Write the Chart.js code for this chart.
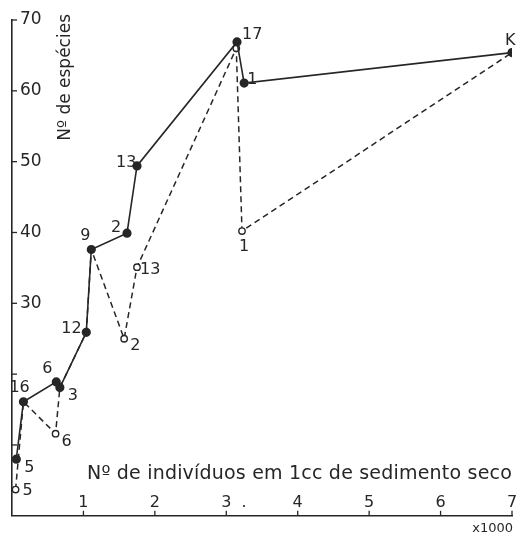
<!DOCTYPE html>
<html>
<head>
<meta charset="utf-8">
<script src="https://cdn.jsdelivr.net/npm/chart.js@4.4.1/dist/chart.umd.min.js"></script>
<style>
  html, body { margin: 0; padding: 0; background: #fff; }
  #wrap { width: 519px; height: 534px; }
</style>
</head>
<body>
<div id="wrap"><canvas id="especiesChart"></canvas></div>
<script>
// individuos (x1000) e nº de especies
const solidX = [0.06, 0.16, 0.62, 0.67, 1.04, 1.11, 1.61, 1.75, 3.15, 3.25, 7.0];
const solidY = [8.0, 16.1, 18.9, 18.1, 25.9, 37.6, 39.9, 49.4, 66.9, 61.1, 65.4];
const solidLabels = ['5', '16', '6', '3', '12', '9', '2', '13', '17', '1', 'K'];

const dashedX = [0.05, 0.16, 0.61, 0.67, 1.04, 1.11, 1.57, 1.75, 3.14, 3.22, 7.0];
const dashedY = [3.7, 16.1, 11.6, 18.1, 25.9, 37.6, 25.0, 35.1, 66.0, 40.2, 65.4];
const dashedLabels = ['5', '', '6', '', '', '', '2', '13', '', '1', ''];

const xTicks = [1, 2, 3, 4, 5, 6, 7];
const yTicks = [10, 20, 30, 40, 50, 60, 70];
const yTickLabels = ['', '', '30', '40', '50', '60', '70'];

const ink = '#262626';

// label offsets (px) relative to the point
const solidOffsets = [[8, 9], [-14, -14], [-14, -13], [8, 8], [-25, -4], [-11, -14], [-16, -5], [-21, -3], [5, -7], [3, -3], [-7, -12]];
const dashedOffsets = [[7, 1], [0, 0], [6, 8], [0, 0], [0, 0], [0, 0], [6, 7], [3, 3], [0, 0], [-3, 16], [0, 0]];

const toPoints = (xs, ys) => xs.map((x, i) => ({ x: x, y: ys[i] }));

const decor = {
    id: 'decor',
    afterDraw(chart) {
        const ctx = chart.ctx;
        const xs = chart.scales.x;
        const ys = chart.scales.y;
        const area = chart.chartArea;
        ctx.save();
        ctx.strokeStyle = ink;
        ctx.fillStyle = ink;
        ctx.lineWidth = 1.3;

        // inward tick marks
        yTicks.forEach(v => {
            const py = ys.getPixelForValue(v);
            ctx.beginPath();
            ctx.moveTo(area.left, py);
            ctx.lineTo(area.left + 5, py);
            ctx.stroke();
        });
        xTicks.forEach(v => {
            const px = xs.getPixelForValue(v);
            ctx.beginPath();
            ctx.moveTo(px, area.bottom);
            ctx.lineTo(px, area.bottom - 5);
            ctx.stroke();
        });

        // x tick labels above the axis
        ctx.font = '16px "DejaVu Sans"';
        ctx.textAlign = 'center';
        ctx.textBaseline = 'alphabetic';
        xTicks.forEach(v => {
            ctx.fillText(String(v), xs.getPixelForValue(v), area.bottom - 9);
        });
        ctx.fillText('.', xs.getPixelForValue(3.25), area.bottom - 9);

        ctx.font = '13px "DejaVu Sans"';
        ctx.textAlign = 'right';
        ctx.fillText('x1000', area.right + 1, area.bottom + 16);

        // axis titles
        ctx.font = '19px "DejaVu Sans"';
        ctx.letterSpacing = '0.2px';
        ctx.textAlign = 'right';
        ctx.fillText('Nº de indivíduos em 1cc de sedimento seco', area.right, area.bottom - 37);
        ctx.letterSpacing = '0px';

        ctx.save();
        ctx.font = '17px "DejaVu Sans"';
        ctx.translate(area.left + 58, area.top - 6);
        ctx.rotate(-Math.PI / 2);
        ctx.textAlign = 'right';
        ctx.fillText('Nº de espécies', 0, 0);
        ctx.restore();

        // point labels
        ctx.font = '16px "DejaVu Sans"';
        ctx.textAlign = 'left';
        ctx.textBaseline = 'middle';
        const sets = [[0, solidLabels, solidOffsets], [1, dashedLabels, dashedOffsets]];
        sets.forEach(([di, labels, offs]) => {
            const meta = chart.getDatasetMeta(di);
            meta.data.forEach((el, i) => {
                if (!labels[i]) return;
                ctx.fillText(labels[i], el.x + offs[i][0], el.y + offs[i][1]);
            });
        });
        ctx.restore();
    }
};

new Chart(document.getElementById('especiesChart'), {
    type: 'scatter',
    data: {
        datasets: [{
            label: 'solid',
            data: toPoints(solidX, solidY),
            showLine: true,
            borderColor: ink,
            borderWidth: 1.6,
            pointBackgroundColor: ink,
            pointBorderColor: ink,
            pointRadius: 3.8,
            order: 1
        }, {
            label: 'dashed',
            data: toPoints(dashedX, dashedY),
            showLine: true,
            borderColor: ink,
            borderWidth: 1.5,
            borderDash: [6, 4],
            pointBackgroundColor: '#fff',
            pointBorderColor: ink,
            pointBorderWidth: 1.4,
            pointRadius: [3.2, 0, 3.2, 0, 0, 0, 3.2, 3.2, 3.2, 3.2, 0],
            order: 2
        }]
    },
    plugins: [decor],
    options: {
        animation: false,
        responsive: true,
        maintainAspectRatio: false,
        layout: { padding: { left: 12, right: 7, top: 20, bottom: 18 } },
        plugins: {
            legend: { display: false },
            tooltip: { enabled: false }
        },
        scales: {
            x: {
                type: 'linear',
                min: 0,
                max: 7,
                afterFit: axis => { axis.height = 0; },
                ticks: { display: false, stepSize: 1 },
                grid: { display: false },
                border: { display: true, color: ink, width: 1.6 }
            },
            y: {
                type: 'linear',
                min: 0,
                max: 70,
                afterFit: axis => { axis.width = 0; },
                afterBuildTicks: axis => {
                    axis.ticks = yTicks.map(v => ({ value: v }));
                },
                ticks: {
                    mirror: true,
                    padding: 8,
                    color: ink,
                    font: { family: 'DejaVu Sans', size: 17 },
                    callback: (v) => yTickLabels[yTicks.indexOf(v)]
                },
                grid: { display: false },
                border: { display: true, color: ink, width: 1.6 }
            }
        }
    }
});
</script>
</body>
</html>
